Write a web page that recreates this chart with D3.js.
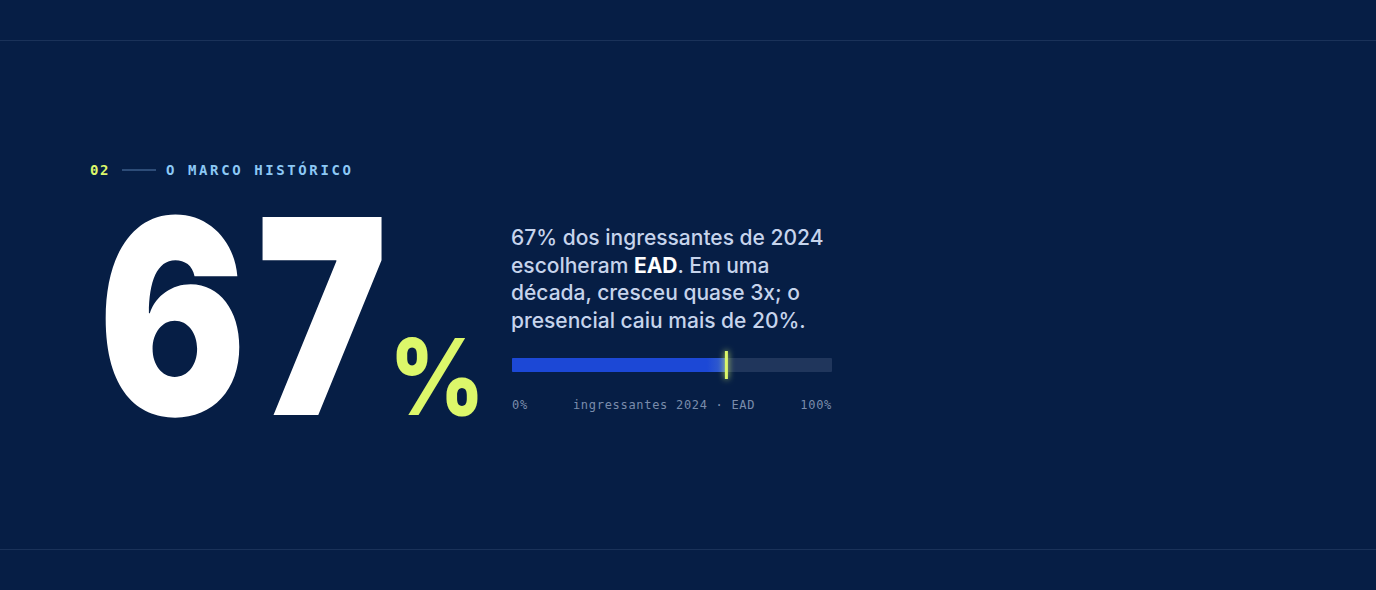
<!DOCTYPE html>
<html>
<head>
<meta charset="utf-8">
<script src="https://cdn.jsdelivr.net/npm/d3@7"></script>
<style>
  html, body { margin: 0; padding: 0; background: #061e45; }
  svg { display: block; }
</style>
</head>
<body>
<svg id="chart" width="1376" height="590"></svg>
<script>
// dados
var secao = "02";
var secaoTitulo = "O MARCO HISTÓRICO";
var valorEad = 67;            // % ingressantes 2024 em EAD
var escalaDominio = [0, 100];
var escalaRotulos = ["0%", "ingressantes 2024 · EAD", "100%"];
var textoLinhas = [
    [["67% dos ingressantes de 2024", false]],
    [["escolheram ", false], ["EAD", true], [". Em uma", false]],
    [["década, cresceu quase 3x; o", false]],
    [["presencial caiu mais de 20%.", false]]
];

var svg = d3.select("#chart"),
    width = +svg.attr("width"),
    height = +svg.attr("height");

var lime = "#dcf76a";

svg.append("rect").attr("width", width).attr("height", height).attr("fill", "#061e45");

// linhas de divisao
[40.5, 549.5].forEach(function(y){
    svg.append("line")
       .attr("x1", 0).attr("x2", width)
       .attr("y1", y).attr("y2", y)
       .attr("stroke", "#1a3259")
       .attr("stroke-width", 1);
});

// cabecalho da secao
var mono = "'DejaVu Sans Mono', 'Liberation Mono', monospace";
svg.append("text")
   .attr("x", 90).attr("y", 175)
   .attr("font-family", mono).attr("font-weight", 700)
   .attr("font-size", "14px").attr("letter-spacing", "1.5px")
   .attr("fill", lime)
   .text(secao);
svg.append("line")
   .attr("x1", 122).attr("x2", 156)
   .attr("y1", 170).attr("y2", 170)
   .attr("stroke", "#557aab").attr("stroke-width", 1);
svg.append("text")
   .attr("x", 166).attr("y", 175)
   .attr("font-family", mono).attr("font-weight", 700)
   .attr("font-size", "14px").attr("letter-spacing", "2.6px")
   .attr("fill", "#8cc8f5")
   .text(secaoTitulo);

// numero grande (fonte condensada na horizontal)
svg.append("text")
   .attr("transform", "translate(103,415) scale(0.81,1)")
   .attr("x", -6).attr("y", 0)
   .attr("font-family", "Inter, 'Noto Sans', sans-serif")
   .attr("font-weight", 900)
   .attr("font-size", "272px")
   .attr("letter-spacing", "12px")
   .attr("fill", "#ffffff")
   .text(valorEad);
svg.append("text")
   .attr("transform", "translate(389,415) scale(0.88,1)")
   .attr("font-family", "Inter, 'Noto Sans', sans-serif")
   .attr("font-weight", 800)
   .attr("font-size", "106px")
   .attr("fill", lime)
   .text("%");

// paragrafo
var para = svg.append("text")
   .attr("font-family", "Inter, 'Noto Sans', sans-serif")
   .attr("font-weight", 500)
   .attr("font-size", "21px")
   .attr("fill", "#c6d4ec");
textoLinhas.forEach(function(linha, i){
    var t = para.append("tspan").attr("x", 511).attr("y", 245 + i * 27.7);
    linha.forEach(function(seg, j){
        var s = (j === 0) ? t : para.append("tspan");
        s.text(seg[0]);
        if (seg[1]) s.attr("fill", "#ffffff").attr("font-weight", 700);
    });
});

// barra
var x = d3.scaleLinear().domain(escalaDominio).range([512, 832]);
var defs = svg.append("defs");
var grad = defs.append("linearGradient").attr("id", "fade")
   .attr("x1", "0").attr("x2", "1").attr("y1", "0").attr("y2", "0");
grad.append("stop").attr("offset", "0%").attr("stop-color", "#1c48d6");
grad.append("stop").attr("offset", "91%").attr("stop-color", "#1c48d6");
grad.append("stop").attr("offset", "100%").attr("stop-color", "#3a63c8");

svg.append("rect")
   .attr("x", x(escalaDominio[0])).attr("y", 358)
   .attr("width", x(escalaDominio[1]) - x(escalaDominio[0])).attr("height", 14)
   .attr("rx", 1)
   .attr("fill", "#20365c");
svg.append("rect")
   .attr("x", x(0)).attr("y", 358)
   .attr("width", x(valorEad) - x(0)).attr("height", 14)
   .attr("rx", 1)
   .attr("fill", "url(#fade)");

var glow = defs.append("filter").attr("id", "glow")
   .attr("x", "-300%").attr("width", "700%").attr("y", "-50%").attr("height", "200%");
glow.append("feGaussianBlur").attr("stdDeviation", 3).attr("result", "b");
var m = glow.append("feMerge");
m.append("feMergeNode").attr("in", "b");
m.append("feMergeNode").attr("in", "SourceGraphic");

svg.append("rect")
   .attr("x", x(valorEad) - 1.5).attr("y", 351)
   .attr("width", 3).attr("height", 28)
   .attr("fill", lime)
   .attr("filter", "url(#glow)");

// rotulos da escala
var rot = svg.selectAll(".rotulo")
   .data(escalaRotulos)
   .enter().append("text")
   .attr("class", "rotulo")
   .attr("y", 409)
   .attr("font-family", mono)
   .attr("font-size", "12px")
   .attr("letter-spacing", "0.7px")
   .attr("fill", "#7a8cab")
   .text(function(d){ return d; });
// distribui como space-between
var ws = [];
rot.each(function(){ ws.push(this.getComputedTextLength()); });
var gap = (x(100) - x(0) - d3.sum(ws)) / 2;
rot.attr("x", function(d, i){
    if (i === 0) return x(0);
    if (i === 1) return x(0) + ws[0] + gap;
    return x(100) - ws[2];
});
</script>
</body>
</html>
